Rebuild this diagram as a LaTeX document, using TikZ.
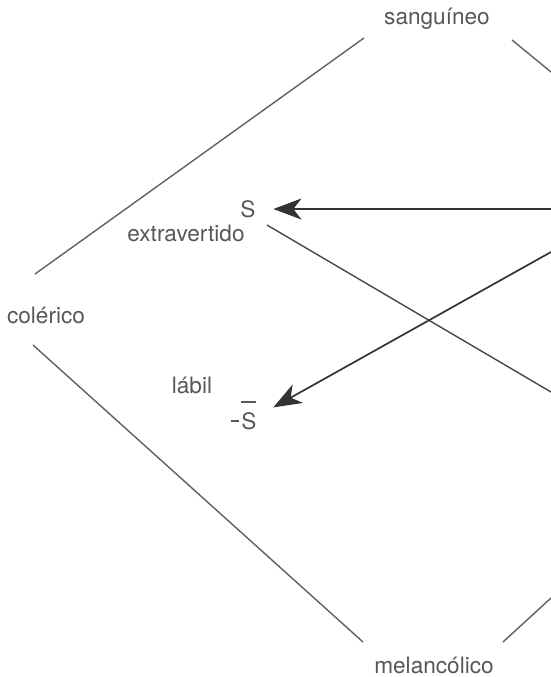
\documentclass[tikz,border=0pt]{standalone}
\usepackage{fontspec}
\setmainfont{TeX Gyre Heros}
\usetikzlibrary{arrows.meta}
\begin{document}
\begin{tikzpicture}[x=0.5pt,y=-0.5pt,
    lbl/.style={text=black!66, font=\fontsize{11.3}{13}\selectfont, inner sep=1pt},
    side/.style={draw=black!62, line width=0.7pt},
    arr/.style={draw=black!80, line width=0.85pt, -{Stealth[length=14pt,width=10.5pt,inset=4pt]}}]
  \useasboundingbox (0,0) rectangle (551,677);

  % temperaments
  \node [lbl] (sang) at (437,19) {sanguíneo};
  \node [lbl] (col) at (46,315) {colérico};
  \node [lbl] (mel) at (434,665) {melancólico};

  % S and its negation
  \node [lbl] (S) at (248,209) {S};
  \node [lbl] (extra) at (186,233) {extravertido};
  \node [lbl] (labil) at (192,385) {lábil};
  \node [lbl] (negS) at (249,421)
    {\llap{\rule[3.8pt]{3.8pt}{0.6pt}\kern1.4pt}\rlap{\smash{\raisebox{13.3pt}{\rule{7.4pt}{0.6pt}}}}\vphantom{S}S};

  % ends of the sides
  \coordinate (cs1) at (35,274);
  \coordinate (cs2) at (364,38);
  \coordinate (sr1) at (512,40);
  \coordinate (sr2) at (551,72);
  \coordinate (cm1) at (33,345);
  \coordinate (cm2) at (363,642);
  \coordinate (mr1) at (503,642);
  \coordinate (mr2) at (551,598);
  \coordinate (ex1) at (267,225);
  \coordinate (ex2) at (551,392);
  \coordinate (srcS) at (551,209);
  \coordinate (srcN) at (551,252);

  \draw [side] (cs1) -- (cs2);
  \draw [side] (sr1) -- (sr2);
  \draw [side] (cm1) -- (cm2);
  \draw [side] (mr1) -- (mr2);
  \draw [side, draw=black!72] (ex1) -- (ex2);

  \draw [arr, shorten >=7.75pt] (srcS) -- (S);
  \draw [arr, shorten >=8.2pt] (srcN) -- (negS);
\end{tikzpicture}
\end{document}
